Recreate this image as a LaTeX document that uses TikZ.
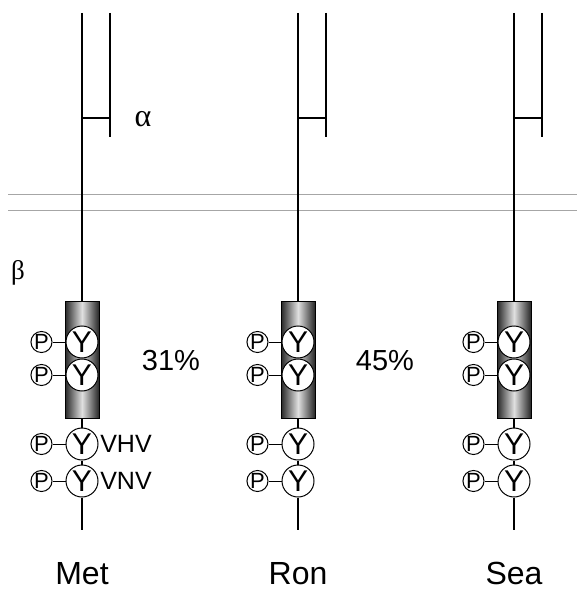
\documentclass[tikz,border=0pt]{standalone}
\usepackage{fontspec}
\setmainfont{Liberation Sans}
\newfontfamily\greekfont{Liberation Serif}
\usetikzlibrary{positioning}

\begin{document}
\begin{tikzpicture}[x=1pt,y=-1pt,line width=1.6pt,
  tyr/.style={circle,draw,fill=white,line width=1pt,minimum size=32pt,inner sep=0pt,font=\fontsize{30}{30}\selectfont},
  phos/.style={circle,draw,line width=1pt,minimum size=19pt,inner sep=0pt,font=\fontsize{22}{22}\selectfont},
  kinase/.style={draw,line width=0.8pt,minimum width=34pt,minimum height=117pt,inner sep=0pt,left color=black!85,right color=black!85,middle color=black!12},
  motif/.style={anchor=west,inner sep=1pt,font=\fontsize{25}{25}\selectfont},
  percent/.style={font=\fontsize{29}{29}\selectfont},
  recname/.style={anchor=base,inner sep=0pt,font=\fontsize{32}{32}\selectfont},
  membrane/.style={draw=gray!70,line width=1pt}]
  \useasboundingbox (0,0) rectangle (577,593);

  % membrane
  \coordinate (m1l) at (8,195);  \coordinate (m1r) at (577,195);
  \coordinate (m2l) at (8,211);  \coordinate (m2r) at (577,211);
  \draw[membrane] (m1l) -- (m1r);
  \draw[membrane] (m2l) -- (m2r);

  \foreach \rec/\x/\lbl in {met/82/Met,ron/298/Ron,sea/514/Sea}{
    % alpha chain
    \coordinate (\rec-top) at (\x,13);
    \coordinate (\rec-atop) at (\x+28,13);
    \coordinate (\rec-abot) at (\x+28,137);
    \coordinate (\rec-bar) at (\x,118);
    \coordinate (\rec-abar) at (\x+28,118);
    \coordinate (\rec-bot) at (\x,530);
    \draw (\rec-atop) -- (\rec-abot);
    \draw (\rec-bar) -- (\rec-abar);
    % beta chain
    \node[kinase] (\rec-box) at (\x,359.5) {};
    \draw (\rec-top) -- (\rec-box.north);
    \node[tyr] (\rec-y1) at (\x,342) {Y};
    \node[tyr] (\rec-y2) at (\x,375) {Y};
    \node[tyr] (\rec-y3) at (\x,444) {Y};
    \node[tyr] (\rec-y4) at (\x,481) {Y};
    \draw (\rec-box.south) -- (\rec-y3);
    \draw (\rec-y3) -- (\rec-y4);
    \draw (\rec-y4) -- (\rec-bot);
    \foreach \i in {1,...,4}{
      \node[phos,left=13pt of \rec-y\i] (\rec-p\i) {P};
      \draw[line width=1pt] (\rec-p\i) -- (\rec-y\i);
    }
    \node[recname] (\rec-name) at (\x,584) {\lbl};
  }

  \node[font=\greekfont\fontsize{32}{32}\selectfont] (alpha) at (143,119) {α};
  \node[font=\greekfont\fontsize{27}{27}\selectfont] (beta) at (18,273) {β};
  \node[motif] (vhv) at (met-y3.east) {VHV};
  \node[motif] (vnv) at (met-y4.east) {VNV};
  \node[percent] (metron) at (171,361) {31\%};
  \node[percent] (ronsea) at (385,361) {45\%};
\end{tikzpicture}
\end{document}
